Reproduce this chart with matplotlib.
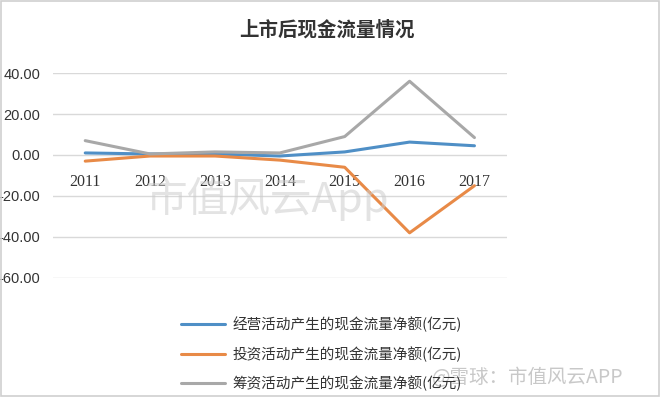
import matplotlib.pyplot as plt
from matplotlib.patches import Rectangle

plt.rcParams['font.family'] = ['Noto Sans CJK SC', 'DejaVu Sans']

years = ['2011', '2012', '2013', '2014', '2015', '2016', '2017']
operating = [1.0, 0.5, 0.5, -0.5, 1.5, 6.3, 4.5]
investing = [-3.0, -0.5, -0.5, -2.5, -6.0, -38.0, -15.0]
financing = [7.0, 0.5, 1.5, 1.0, 9.0, 36.0, 8.5]
labels = ['经营活动产生的现金流量净额(亿元)',
          '投资活动产生的现金流量净额(亿元)',
          '筹资活动产生的现金流量净额(亿元)']
colors = ['#4f8fc6', '#e88a47', '#a8a8a8']

fig = plt.figure(figsize=(6.6, 3.97), dpi=100)
ax = fig.add_axes([0.080, 0.300, 0.688, 0.516])

x = range(len(years))
for vals, lab, c in zip([operating, investing, financing], labels, colors):
    ax.plot(x, vals, color=c, lw=2.2, label=lab, solid_capstyle='round')

ax.set_xlim(-0.5, 6.5)
ax.set_ylim(-60, 40)
yt = [-60, -40, -20, 0, 20, 40]
ax.set_yticks(yt)
ax.set_yticklabels(['%.2f' % v for v in yt],
                   family=['Liberation Sans Narrow', 'Liberation Sans'],
                   fontsize=10.5, color='#333333')
ax.yaxis.set_tick_params(length=0, pad=9)
ax.grid(axis='y', color='#d9d9d9', lw=1)
ax.set_axisbelow(True)
for s in ax.spines.values():
    s.set_visible(False)
ax.spines['bottom'].set_position(('data', 0))
ax.set_xticks(list(x))
ax.set_xticklabels(years, family='Liberation Serif', fontsize=11.5, color='#333333')
ax.xaxis.set_tick_params(length=0, pad=14)

fig.text(0.495, 0.925, '上市后现金流量情况', ha='center', va='center',
         fontsize=14, fontweight='bold', color='#333333')

# watermarks
fig.text(0.405, 0.50, '市值风云App', ha='center', va='center', fontsize=30,
         color='#cccccc', alpha=0.55, zorder=0)
fig.text(0.80, 0.048, '@雪球：市值风云APP', ha='center', va='center', fontsize=14,
         color='#bbbbbb', alpha=0.8)

fig.legend(loc='upper left', bbox_to_anchor=(0.255, 0.235), frameon=False,
           fontsize=10.5, handlelength=3.0, handletextpad=0.5, labelspacing=0.95,
           labelcolor='#333333')

fig.patches.append(Rectangle((0.002, 0.003), 0.996, 0.994, transform=fig.transFigure,
                             fill=False, ec='#cfcfcf', lw=1.2))

plt.savefig('out.png', dpi=100)
